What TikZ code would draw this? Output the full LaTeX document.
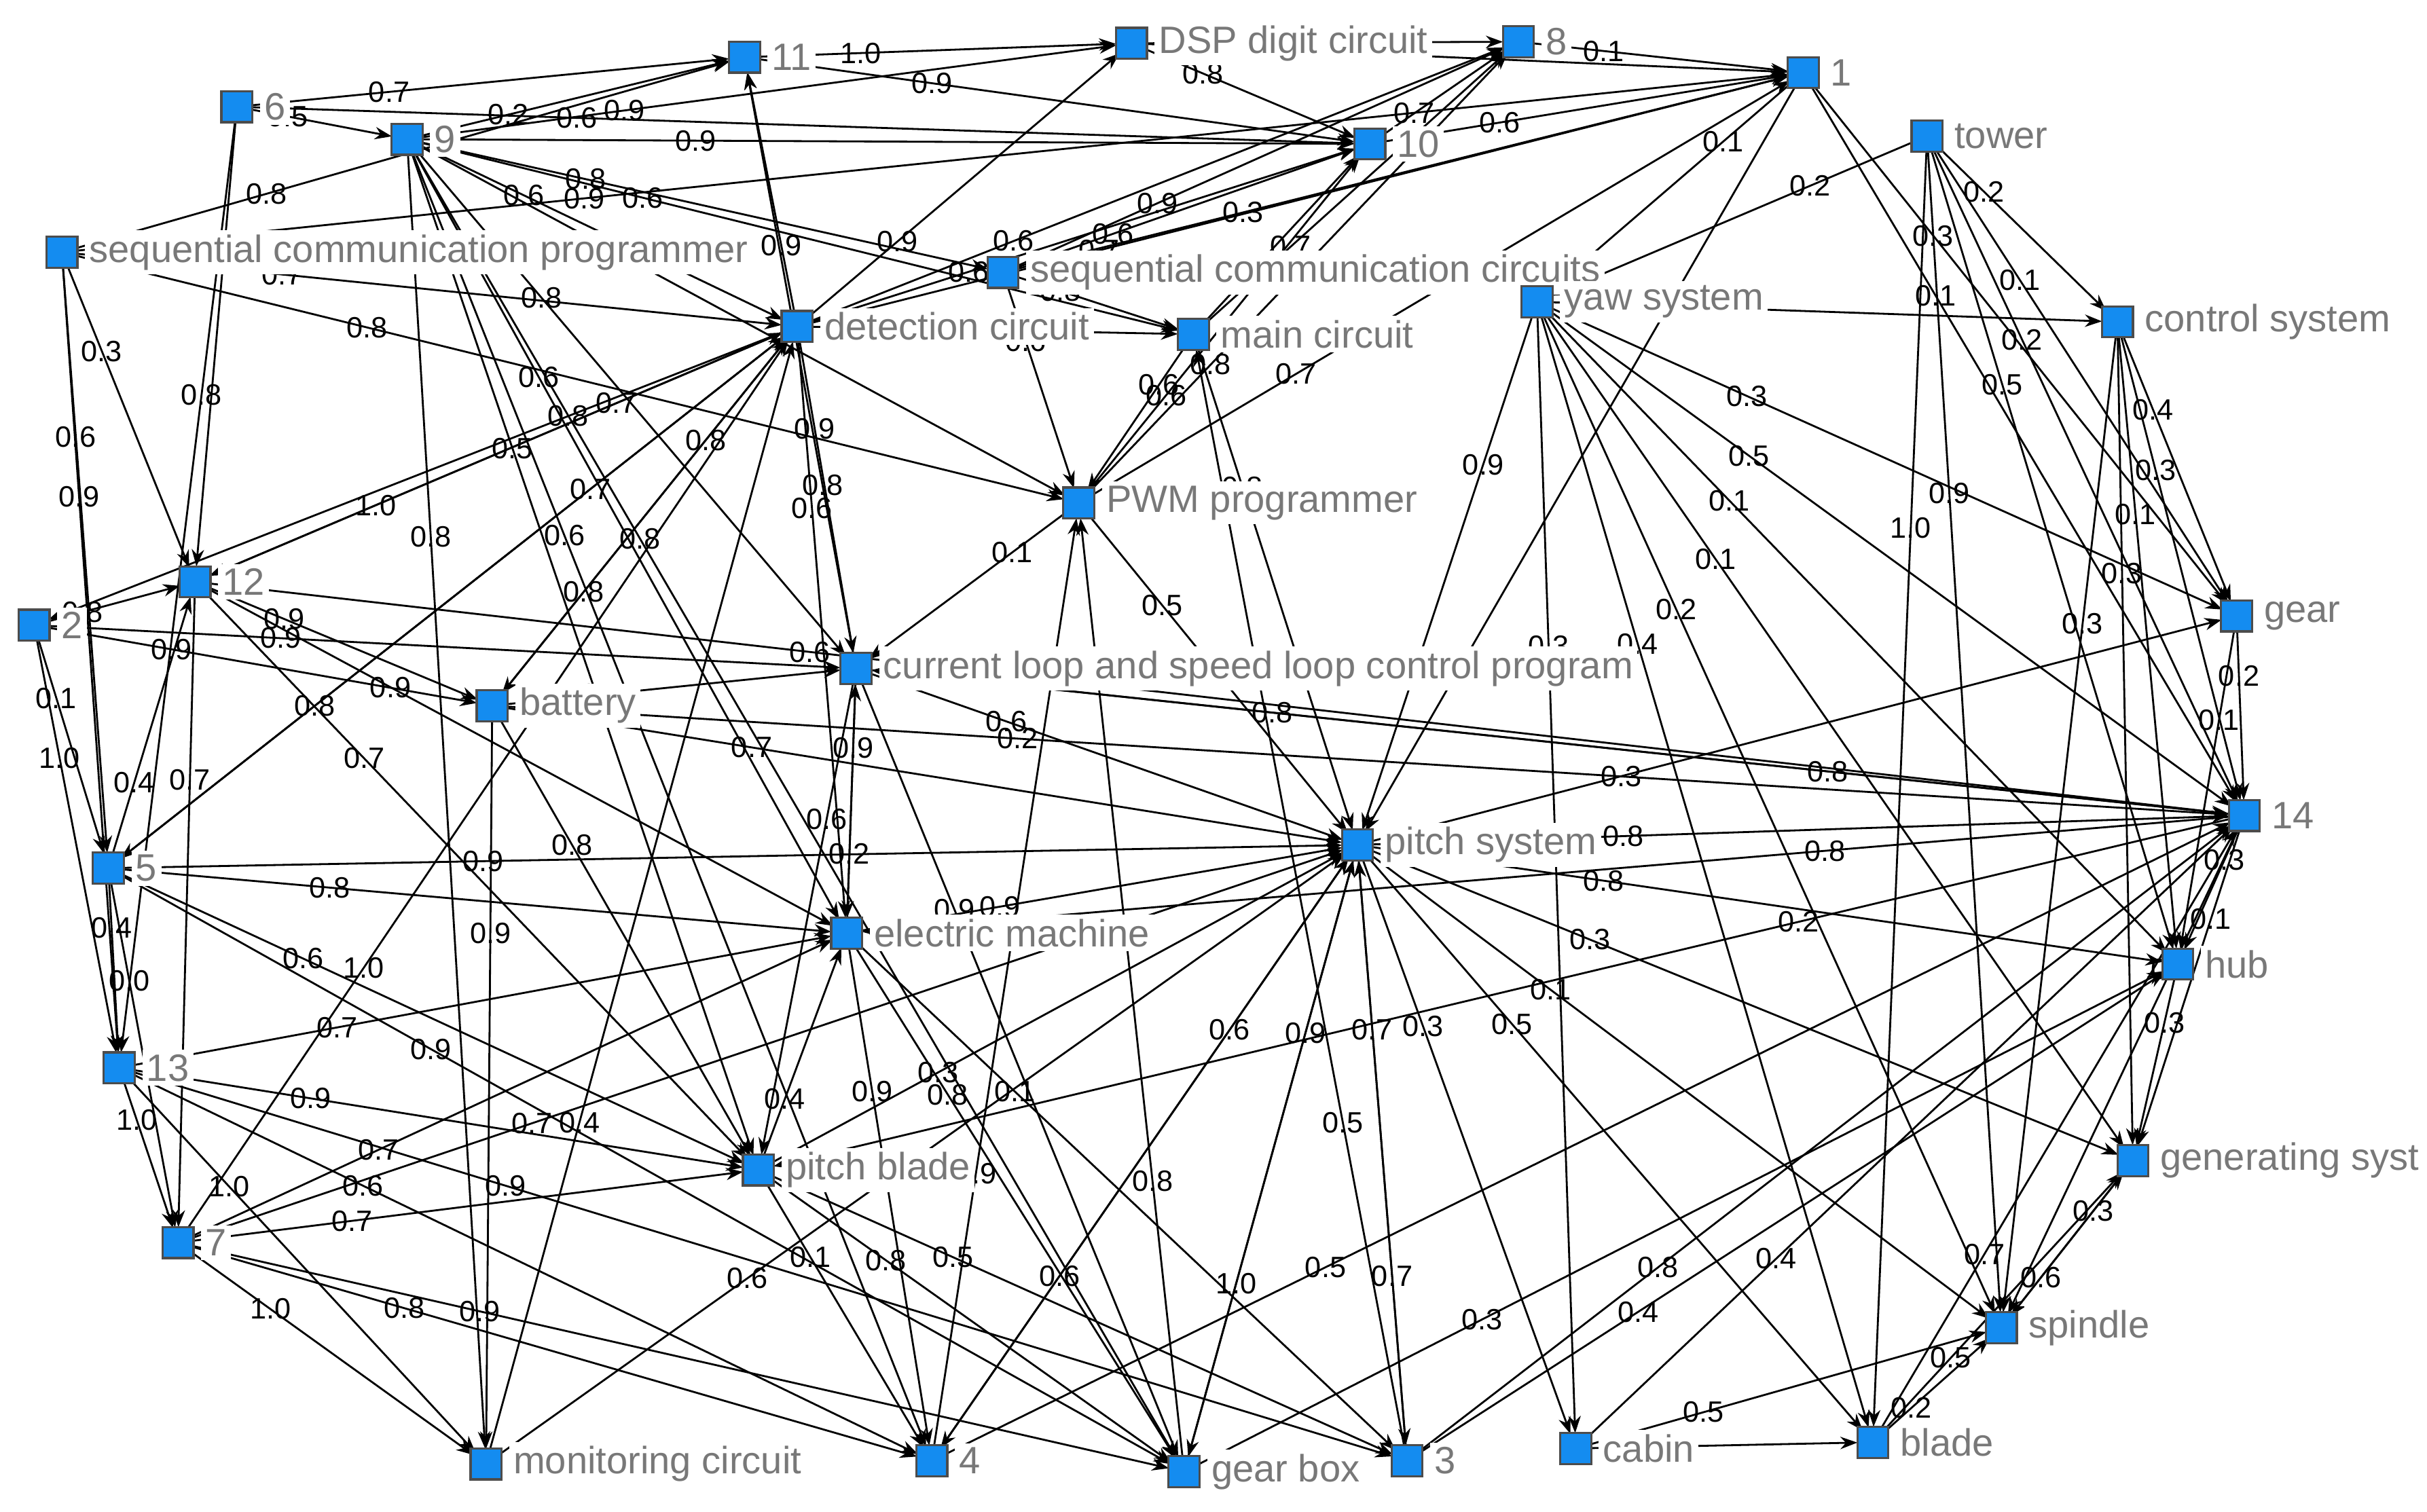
\documentclass[tikz,border=0pt]{standalone}
\usepackage{fontspec}
\setmainfont{Liberation Sans}
\usetikzlibrary{arrows.meta}
\definecolor{nb}{RGB}{20,140,240}
\definecolor{lg}{RGB}{120,120,120}
\tikzset{
 nd/.style={draw=black!70,fill=nb,minimum size=0.2cm,inner sep=0pt},
 lb/.style={text=lg,font=\fontsize{7}{8}\selectfont,anchor=west,inner sep=0.8pt,fill=white},
 ed/.style={-{Stealth[length=1.1mm,width=0.8mm]},line width=0.35pt,black},
 el/.style={font=\fontsize{5.4}{6}\selectfont,inner sep=0.5pt}
}
\begin{document}
\begin{tikzpicture}[x=0.01cm,y=-0.01cm]
\useasboundingbox (0,0) rectangle (1568,977);
\foreach \n/\x/\y in {
 n11/481/37, dsp/731/28, n8/981/27, n1/1165/47,
 n6/153/69, n9/263/90, n10/885/93, tower/1245/88,
 sp/40/163, sc/648/176,
 det/515/211, main/771/216, yaw/993/195,
 ctl/1368/208, pwm/697/325, n12/126/376, n2/22/404,
 gear/1445/398, bat/318/456, cl/553/432,
 n14/1450/527, n5/70/561, pitch/877/546, em/547/603,
 hub/1407/623, n13/77/690, pb/490/756, gen/1378/750,
 n7/115/803, spin/1293/858, mon/314/946, n4/602/944,
 gb/765/951, n3/909/944, cab/1018/936, bl/1210/932}
{ \coordinate (\n) at (\x,\y); }
\foreach \a/\b/\l in {
 n6/n11/0.7, n9/n11/0.2, n11/dsp/1.0, n9/dsp/0.9, n6/n9/0.5, n9/n10/0.9, n6/n10/0.6,
 dsp/n8/0.7, dsp/n1/0.9, n8/n1/0.1, n10/n1/0.6, n10/n8/0.7, dsp/n10/0.8, n11/n10/0.9,
 sp/n11/0.8, sp/n12/0.3, sp/n5/0.6, sp/n13/0.9, sp/pwm/0.8, sp/det/0.7, sp/n1/0.9,
 n6/n12/0.8, n6/n13/0.8, n9/det/0.6, n9/cl/0.8, n9/em/0.6, n9/pb/0.5, n9/gb/0.8, n9/sc/0.8,
 n9/main/0.6, n9/pwm/0.9, n9/n4/0.6, n9/mon/0.8,
 det/n11/0.9, det/dsp/0.9, det/n10/0.6, det/n8/0.6, det/n1/0.7, det/cl/0.9, det/em/0.6,
 det/main/0.9, det/n12/0.7, det/n5/0.7, det/bat/0.8, det/n2/0.8,
 sc/n10/0.6, sc/n8/0.9, sc/main/0.8, sc/pwm/0.6, sc/n1/0.3, main/n10/0.8, main/n8/0.7,
 main/pitch/0.8, main/pwm/0.6, pwm/n10/0.6, pwm/n8/0.8, pwm/n1/0.7, pwm/cl/0.1, pwm/pitch/0.5,
 cl/pitch/0.6, cl/n14/0.8, cl/em/0.9, cl/n11/0.8, cl/pb/0.6, cl/gb/0.9,
 bat/pitch/0.7, bat/cl/0.4, bat/n14/0.2, bat/pb/0.8, bat/mon/0.9, bat/det/0.8,
 n12/bat/0.9, n12/pb/0.7, n12/em/0.9, n12/n14/0.6, n12/det/1.0, n12/n7/0.7,
 n2/n12/0.8, n2/n5/0.1, n2/n13/1.0, n2/cl/0.9, n2/bat/0.9,
 n5/pitch/0.9, n5/em/0.8, n5/n13/0.4, n5/det/0.8, n5/n7/0.0, n5/pb/0.6, n5/gb/0.9, n5/n12/0.4,
 n13/pb/0.9, n13/em/0.7, n13/mon/1.0, n13/n4/0.6, n13/n7/1.0, n13/n3/0.9,
 n7/pb/0.7, n7/pitch/0.7, n7/gb/0.9, n7/n4/0.8, n7/mon/1.0, n7/em/0.7, n7/det/1.0,
 pb/em/0.4, pb/pitch/0.3, pb/n4/0.1, pb/gb/0.8, pb/n3/0.5,
 em/n4/0.9, em/gb/0.8, em/pitch/0.9, em/n3/0.1, em/cl/0.2,
 pitch/gb/0.9, pitch/n3/0.7, pitch/cab/0.3, pitch/bl/0.5, pitch/gen/0.3, pitch/hub/0.8,
 pitch/n14/0.8, pitch/gear/0.3, pitch/spin/0.1, pitch/n4/0.6,
 yaw/ctl/0.3, yaw/gear/0.3, yaw/n14/0.5, yaw/pitch/0.9, yaw/bl/0.4, yaw/spin/0.2, yaw/cab/0.3,
 yaw/hub/0.1, yaw/gen/0.1,
 tower/ctl/0.2, tower/gear/0.1, tower/hub/0.5, tower/bl/1.0, tower/spin/0.9, tower/n14/0.2, tower/yaw/0.2,
 ctl/gear/0.4, ctl/n14/0.3, ctl/hub/0.1, ctl/gen/0.3, ctl/spin/0.3,
 n1/pitch/0.1, n1/yaw/0.1, n1/gear/0.3, n1/n14/0.1,
 gear/n14/0.2, gear/hub/0.1, n14/hub/0.3, n14/gen/0.1, n14/spin/0.6,
 n14/pb/0.2, n14/cl/0.8, n14/em/0.8,
 hub/gen/0.3, gen/spin/0.3, spin/gen/0.6, cab/bl/4, cab/spin/0.5, bl/spin/0.2, bl/n14/0.7,
 cab/n14/0.4, bl/gen/0.5, n3/n14/0.8, n3/hub/0.4, gb/hub/0.3, n4/n14/0.5, n3/pitch/0.7,
 gb/pitch/1.0, n4/pitch/0.6, n4/pwm/0.9, gb/pwm/0.8, n3/main/0.5, mon/det/0.4, mon/pitch/0.6}
{ \draw[ed,shorten >=1mm,shorten <=1mm] (\a) -- (\b) node[el,pos=0.3]{\l}; }
\foreach \n/\t in {
 n11/11, dsp/DSP digit circuit, n8/8, n1/1,
 n6/6, n9/9, n10/10, tower/tower,
 sp/sequential communication programmer, sc/sequential communication circuits,
 det/detection circuit, main/main circuit, yaw/yaw system,
 ctl/control system, pwm/PWM programmer, n12/12, n2/2,
 gear/gear, bat/battery, cl/current loop and speed loop control program,
 n14/14, n5/5, pitch/pitch system, em/electric machine,
 hub/hub, n13/13, pb/pitch blade, gen/generating syst,
 n7/7, spin/spindle, mon/monitoring circuit, n4/4,
 gb/gear box, n3/3, cab/cabin, bl/blade}
{ \node[nd] (\n n) at (\n) {}; \node[lb] at ([xshift=1pt]\n n.east) {\t}; }
\end{tikzpicture}
\end{document}
